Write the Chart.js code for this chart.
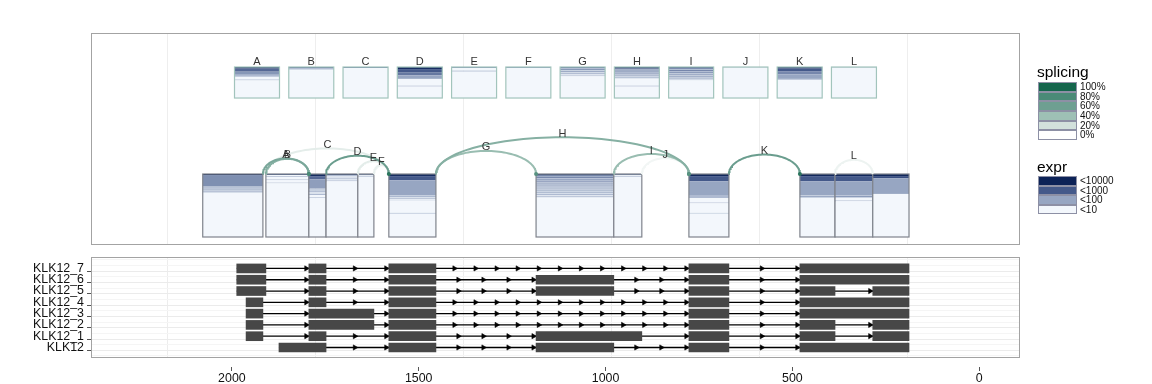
<!DOCTYPE html>
<html>
<head>
<meta charset="utf-8">
<script src="https://cdn.jsdelivr.net/npm/chart.js@4.4.1/dist/chart.umd.min.js"></script>
<style>
  html, body { margin: 0; padding: 0; background: #fff; }
  #wrap { position: relative; width: 1152px; height: 384px; overflow: hidden;
          font-family: "Liberation Sans", Arial, sans-serif; }
  #topChart { position: absolute; left: 0; top: 0; }
  #bottomChart { position: absolute; left: 0; top: 250px; }
  .lg-title { position: absolute; font-size: 15.5px; line-height: 18px; color: #000; }
  .lg-key { position: absolute; box-sizing: border-box; border: 1px solid #8d90a5; }
  .lg-lab { position: absolute; font-size: 10px; color: #111; white-space: nowrap; }
</style>
</head>
<body>
<div id="wrap">
  <canvas id="topChart" width="1152" height="250"></canvas>
  <canvas id="bottomChart" width="1152" height="134"></canvas>
  <div id="legend"></div>
</div>
<script>
// -------------------------------
// data
// -------------------------------
// coverage bins of the top track (genomic coordinate, high -> low)
const binStart = [2078, 1909, 1794, 1748, 1663, 1580, 1186, 978, 777, 480, 386, 285];
const binEnd   = [1917, 1794, 1748, 1663, 1620, 1454,  978, 903, 670, 386, 285, 188];
// sample expression per bin, run-length [count, log10 level], sorted high -> low
const binExpr = [
  [[1,4],[11,2.3],[2,1.3],[1,2],[1,1],[1,1.6],[1,0.8],[42,0]],
  [[1,3],[1,0],[1,1.2],[2,0],[1,1],[2,0],[1,0.9],[51,0]],
  [[2,3.8],[3,2.8],[9,2.1],[2,1],[1,1.8],[2,0.5],[1,1.5],[2,0],[1,1],[37,0]],
  [[1,3.5],[1,1.5],[2,0.5],[1,1.3],[1,0.5],[1,1.2],[53,0]],
  [[1,2.5],[1,0.3],[1,1],[57,0]],
  [[2,3.8],[4,3],[14,2],[1,1],[1,1.6],[1,0.6],[1,1.4],[2,0.3],[11,0],[1,1],[22,0]],
  [[1,3.5],[1,2.5],[1,2],[1,2.6],[1,1.5],[1,2.3],[1,1.8],[1,2.4],[1,1.4],[1,2.2],[1,1.6],[1,2.1],
   [1,1.2],[1,2],[1,1],[1,1.9],[1,0.8],[1,1.7],[1,0.6],[1,1.5],[1,0.4],[1,1.2],[1,0.3],[37,0]],
  [[1,2.5],[1,0.2],[1,1.1],[57,0]],
  [[2,3.9],[5,3],[13,2],[3,1.5],[4,0],[1,1],[9,0],[1,0.8],[22,0]],
  [[2,3.9],[5,3],[13,2],[1,1],[1,2],[1,1],[37,0]],
  [[2,3.9],[5,3],[13,2],[1,1.2],[1,2.2],[1,1],[2,0],[1,1],[34,0]],
  [[2,3.9],[2,3.2],[15,2],[41,0]]
];

// splice junctions
const junctionNames    = ["A","B","C","D","E","F","G","H","I","J","K","L"];
const junctionStart    = [1917, 1909, 1909, 1748, 1663, 1620, 1454, 1454, 978, 903, 670, 386];
const junctionEnd      = [1794, 1794, 1580, 1580, 1580, 1580, 1186,  777, 777, 777, 480, 285];
const junctionSplicing = [0.55, 0.5, 0.12, 0.62, 0.12, 0.1, 0.42, 0.5, 0.42, 0.06, 0.62, 0.08];
const junctionExpr = [
  [[3,3.8],[6,2.8],[6,2.2],[4,1.5],[5,0],[2,1.2],[34,0]],
  [[2,2.8],[2,1.5],[2,0.8],[54,0]],
  [[2,2.5],[58,0]],
  [[4,3.8],[6,3],[6,2.6],[7,2],[13,0],[2,1.2],[22,0]],
  [[2,2.3],[5,0],[2,1.5],[51,0]],
  [[2,2.2],[58,0]],
  [[2,2.8],[2,1.5],[2,2.3],[2,1],[2,2.1],[2,0.8],[2,1.8],[2,0.5],[2,1.2],[42,0]],
  [[3,3.8],[2,2.5],[2,1.8],[2,2.6],[2,1.5],[2,2.3],[2,1.2],[2,2],[2,0.8],[2,1.6],[2,0.5],[13,0],[2,1.2],[22,0]],
  [[2,3.2],[2,2.4],[2,1.5],[2,2.6],[2,1.6],[2,2.4],[2,1.3],[2,2.2],[2,1.2],[2,2.2],[2,1.2],[2,1.8],[2,0.8],[34,0]],
  [[1,2],[59,0]],
  [[3,3.8],[5,3],[6,2.4],[9,2],[2,1.2],[35,0]],
  [[1,2.3],[59,0]]
];

// transcript models (top row first)
const transcripts = ["KLK12_7","KLK12_6","KLK12_5","KLK12_4","KLK12_3","KLK12_2","KLK12_1","KLK12"];
const exonStarts = [
  [1987, 1794, 1580, 777, 480],
  [1987, 1794, 1580, 1186, 777, 480],
  [1987, 1794, 1580, 1186, 777, 480, 285],
  [1962, 1794, 1580, 777, 480],
  [1962, 1794, 1580, 777, 480],
  [1962, 1794, 1580, 777, 480, 285],
  [1962, 1794, 1580, 1186, 777, 480, 285],
  [1874, 1580, 1186, 777, 480]
];
const exonEnds = [
  [1909, 1748, 1454, 670, 188],
  [1909, 1748, 1454, 978, 670, 188],
  [1909, 1748, 1454, 978, 670, 386, 188],
  [1917, 1748, 1454, 670, 188],
  [1917, 1620, 1454, 670, 188],
  [1917, 1620, 1454, 670, 386, 188],
  [1917, 1748, 1454, 903, 670, 386, 188],
  [1748, 1454, 978, 670, 188]
];

// axis
const xTicks = [2000, 1500, 1000, 500, 0];
const gridBreaks = [2172, 1776, 1380, 984, 588, 192];

// legends
const splicingLabels = ["100%","80%","60%","40%","20%","0%"];
const splicingLevels = [1, 0.8, 0.6, 0.4, 0.2, 0];
const exprLabels = ["<10000","<1000","<100","<10"];
const exprLevels = [4, 3, 2, 0];

// -------------------------------
// colours / layout constants
// -------------------------------
const exprStops = [[0,"#f3f7fc"],[2,"#97a6c2"],[3,"#44598a"],[4,"#0c2257"]];
const splicingStops = [[0,"#ffffff"],[0.2,"#d2e1dc"],[0.4,"#9ec0b5"],[0.6,"#6e9f91"],[0.8,"#4a8a77"],[1,"#14654c"]];
const FONT = '"Liberation Sans", Arial, sans-serif';
const X_MIN = -109, X_MAX = 2377;
const COV_TOP = 1;                     // coverage boxes from 0 to 1
const JBOX_BOTTOM = 2.206, JBOX_TOP = 2.698, JLABEL_Y = 2.78, JBOX_HALF = 0.4146;
const ARC_K = 0.0224, ARC_STEPS = 60;
const ARROW_BACK = 7;

function hexToRgb(h) {
  const n = parseInt(h.slice(1), 16);
  return [(n >> 16) & 255, (n >> 8) & 255, n & 255];
}
function rampColor(stops, v) {
  if (v <= stops[0][0]) return stops[0][1];
  for (let i = 1; i < stops.length; i++) {
    if (v <= stops[i][0]) {
      const [v0, c0] = stops[i - 1], [v1, c1] = stops[i];
      const t = (v - v0) / (v1 - v0);
      const a = hexToRgb(c0), b = hexToRgb(c1);
      return `rgb(${a.map((x, k) => Math.round(x + (b[k] - x) * t)).join(",")})`;
    }
  }
  return stops[stops.length - 1][1];
}

function drawStripes(ctx, xa, xb, yTop, yBot, runs, edge) {
  const x0 = Math.min(xa, xb), w = Math.abs(xb - xa);
  const total = runs.reduce((s, r) => s + r[0], 0);
  let acc = 0;
  runs.forEach(([n, lvl]) => {
    const a = yTop + (yBot - yTop) * acc / total;
    acc += n;
    const b = yTop + (yBot - yTop) * acc / total;
    ctx.fillStyle = rampColor(exprStops, lvl);
    ctx.fillRect(x0, a, w, b - a);
  });
  ctx.strokeStyle = edge;
  ctx.lineWidth = 1.2;
  ctx.strokeRect(x0, yTop, w, yBot - yTop);
}

// no label overflow padding: keep the chart area where the layout puts it
const noPad = s => { s.paddingTop = 0; s.paddingBottom = 0; s.paddingLeft = 0; s.paddingRight = 0; };

const panelBorder = {
  id: "panelBorder",
  beforeDraw(chart) {
    const { ctx, chartArea: a } = chart;
    ctx.save();
    ctx.fillStyle = "#fff";
    ctx.fillRect(a.left, a.top, a.right - a.left, a.bottom - a.top);
    ctx.restore();
  },
  afterDraw(chart) {
    const { ctx, chartArea: a } = chart;
    ctx.save();
    ctx.strokeStyle = "#a3a3a3";
    ctx.lineWidth = 1;
    ctx.strokeRect(Math.round(a.left) + 0.5, Math.round(a.top) + 0.5,
                   Math.round(a.right - a.left) - 1, Math.round(a.bottom - a.top) - 1);
    ctx.restore();
  }
};

// -------------------------------
// top track: coverage + splice arcs
// -------------------------------
const trackPlugin = {
  id: "tracks",
  beforeDatasetsDraw(chart) {
    const { ctx } = chart;
    const x = chart.scales.x, y = chart.scales.y, xj = chart.scales.xj;
    ctx.save();
    binStart.forEach((s, i) => {
      drawStripes(ctx, x.getPixelForValue(s), x.getPixelForValue(binEnd[i]),
        y.getPixelForValue(COV_TOP), y.getPixelForValue(0), binExpr[i], "#7f838c");
    });
    junctionNames.forEach((n, i) => {
      drawStripes(ctx, xj.getPixelForValue(i - JBOX_HALF), xj.getPixelForValue(i + JBOX_HALF),
        y.getPixelForValue(JBOX_TOP), y.getPixelForValue(JBOX_BOTTOM), junctionExpr[i], "#a2c4bc");
    });
    ctx.restore();
  },
  afterDatasetsDraw(chart) {
    const { ctx } = chart;
    const x = chart.scales.x, y = chart.scales.y, xj = chart.scales.xj;
    ctx.save();
    ctx.font = `11px ${FONT}`;
    ctx.fillStyle = "#333";
    ctx.textAlign = "center";
    ctx.textBaseline = "middle";
    junctionNames.forEach((n, i) => {
      ctx.fillText(n, xj.getPixelForValue(i), y.getPixelForValue(JLABEL_Y));
      const hi = junctionStart[i], lo = junctionEnd[i];
      const peak = COV_TOP + ARC_K * Math.sqrt(hi - lo);
      ctx.fillText(n, x.getPixelForValue((hi + lo) / 2), y.getPixelForValue(peak) - 3.5);
    });
    ctx.restore();
  }
};

const arcDatasets = junctionNames.map((n, i) => {
  const hi = junctionStart[i], lo = junctionEnd[i];
  const mid = (hi + lo) / 2, half = (hi - lo) / 2, h = ARC_K * Math.sqrt(hi - lo);
  const pts = [];
  for (let k = 0; k <= ARC_STEPS; k++) {
    const t = Math.PI * k / ARC_STEPS;
    pts.push({ x: mid + half * Math.cos(t), y: COV_TOP + h * Math.sin(t) });
  }
  return {
    type: "line", data: pts,
    borderColor: rampColor(splicingStops, junctionSplicing[i]),
    borderWidth: 2, pointRadius: 0, tension: 0,
    order: Math.round((1 - junctionSplicing[i]) * 100) + 1
  };
});
arcDatasets.push({
  type: "line", showLine: false, order: 0,
  data: junctionEnd.map(v => ({ x: v, y: COV_TOP })),
  pointRadius: junctionSplicing.map(s => s > 0.3 ? 2 : 0),
  pointBackgroundColor: junctionSplicing.map(s => rampColor(splicingStops, Math.min(1, s + 0.3))),
  pointBorderWidth: 0
});

new Chart(document.getElementById("topChart"), {
  type: "line",
  data: { datasets: arcDatasets },
  options: {
    responsive: false, animation: false, events: [],
    layout: { autoPadding: false, padding: { left: 91, right: 132, top: 33, bottom: 5 } },
    plugins: { legend: { display: false }, tooltip: { enabled: false } },
    scales: {
      x: {
        type: "linear", min: X_MIN, max: X_MAX, reverse: true, position: "bottom",
        ticks: { display: false },
        grid: { color: "#eeeeee", drawTicks: false },
        border: { display: false },
        afterBuildTicks: s => { s.ticks = gridBreaks.map(v => ({ value: v })); },
        afterFit: s => { s.height = 0; noPad(s); }
      },
      xj: { type: "linear", axis: "x", min: -3.059, max: 14.06, display: false },
      y: { type: "linear", min: -0.127, max: 3.238, display: false }
    }
  },
  plugins: [panelBorder, trackPlugin]
});

// -------------------------------
// bottom track: transcript models
// -------------------------------
const nRows = transcripts.length;
const exonData = [], intronSets = [], arrowData = [];
transcripts.forEach((t, r) => {
  const row = nRows - 1 - r;
  const st = exonStarts[r], en = exonEnds[r];
  st.forEach((s, k) => exonData.push({ x: [s, en[k]], y: row }));
  intronSets.push({
    type: "line", order: 2, data: [{ x: st[0], y: row }, { x: en[en.length - 1], y: row }],
    borderColor: "#000", borderWidth: 1.3, pointRadius: 0
  });
  for (let k = 0; k < st.length - 1; k++) {
    const hi = en[k], lo = st[k + 1], len = hi - lo;
    const n = Math.max(1, Math.floor((len - 45) / 50));
    for (let j = 1; j <= n; j++) arrowData.push({ x: hi - len * j / n + ARROW_BACK, y: row });
  }
});

new Chart(document.getElementById("bottomChart"), {
  type: "line",
  data: {
    datasets: [
      { type: "bar", indexAxis: "y", order: 0, data: exonData,
        backgroundColor: "#474747", borderWidth: 0, barThickness: 9 },
      { type: "line", showLine: false, order: 1, data: arrowData,
        pointStyle: "triangle", rotation: 90, pointRadius: 3,
        pointBackgroundColor: "#000", pointBorderColor: "#000", pointBorderWidth: 0.6 },
      ...intronSets
    ]
  },
  options: {
    responsive: false, animation: false, events: [],
    layout: { autoPadding: false, padding: { left: 0, right: 132, top: 7, bottom: 0 } },
    plugins: { legend: { display: false }, tooltip: { enabled: false } },
    scales: {
      x: {
        type: "linear", min: X_MIN, max: X_MAX, reverse: true, position: "bottom",
        afterBuildTicks: s => { s.ticks = xTicks.concat(gridBreaks).map(v => ({ value: v })); },
        afterFit: s => { s.height = 26; noPad(s); },
        ticks: {
          autoSkip: false, maxRotation: 0, padding: 0, color: "#111",
          font: { family: FONT, size: 12.4 },
          callback: v => xTicks.includes(v) ? String(v) : ""
        },
        grid: {
          color: c => (c.tick && gridBreaks.includes(c.tick.value)) ? "#ededed" : "rgba(0,0,0,0)",
          tickColor: c => (c.tick && xTicks.includes(c.tick.value)) ? "#555" : "rgba(0,0,0,0)",
          tickLength: 13, tickBorderDash: [0, 9, 4]
        },
        border: { display: false }
      },
      y: {
        type: "linear", min: -0.667, max: 7.75, position: "left",
        afterBuildTicks: s => {
          const t = [];
          for (let v = -0.5; v <= nRows - 0.5; v += 0.5) t.push({ value: v });
          s.ticks = t;
        },
        afterFit: s => { s.width = 91; noPad(s); },
        ticks: {
          autoSkip: false, padding: 3, color: "#111",
          font: { family: FONT, size: 12.4 },
          callback: v => Number.isInteger(v) ? transcripts[nRows - 1 - v] : ""
        },
        grid: {
          color: c => (c.tick && Number.isInteger(c.tick.value)) ? "#ebebeb" : "#f5f5f5",
          tickColor: c => (c.tick && Number.isInteger(c.tick.value)) ? "#555" : "rgba(0,0,0,0)",
          tickLength: 4
        },
        border: { display: false }
      }
    }
  },
  plugins: [panelBorder]
});

// -------------------------------
// legends
// -------------------------------
const lg = document.getElementById("legend");
function addLegend(title, titleTop, keysTop, keyH, labels, colors) {
  const t = document.createElement("div");
  t.className = "lg-title";
  t.style.left = "1037px"; t.style.top = titleTop + "px";
  t.textContent = title;
  lg.appendChild(t);
  labels.forEach((lab, i) => {
    const k = document.createElement("div");
    k.className = "lg-key";
    k.style.cssText = `left:1038px;top:${keysTop + i * keyH}px;width:39px;height:${keyH}px;background:${colors[i]};`;
    lg.appendChild(k);
    const l = document.createElement("div");
    l.className = "lg-lab";
    l.style.cssText = `left:1080px;top:${keysTop + i * keyH}px;line-height:${keyH}px;`;
    l.textContent = lab;
    lg.appendChild(l);
  });
}
addLegend("splicing", 62.5, 82, 9.67, splicingLabels, splicingLevels.map(v => rampColor(splicingStops, v)));
addLegend("expr", 157.5, 176, 9.5, exprLabels, exprLevels.map(v => rampColor(exprStops, v)));
</script>
</body>
</html>
